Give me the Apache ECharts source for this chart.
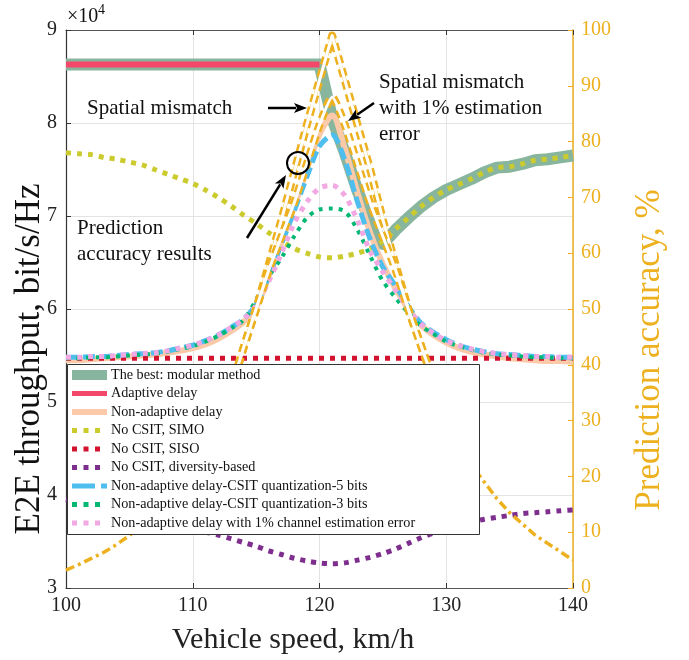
<!DOCTYPE html>
<html><head><meta charset="utf-8">
<script src="https://cdn.jsdelivr.net/npm/echarts@6/dist/echarts.min.js"></script>
<style>html,body{margin:0;padding:0;background:#fff}#c{width:689px;height:660px}</style>
</head><body><div id="c"></div>
<script>
const speeds = [100,101,102,103,104,105,106,107,108,109,110,111,112,113,114,115,116,117,118,119,120,121,122,123,124,125,126,127,128,129,130,131,132,133,134,135,136,137,138,139,140];

const modular = [8.63,8.63,8.63,8.63,8.63,8.63,8.63,8.63,8.63,8.63,8.63,8.63,8.63,8.63,8.63,8.63,8.63,8.63,8.63,8.63,8.63,8.05,7.68,7.27,6.95,6.70,6.85,6.98,7.10,7.20,7.28,7.34,7.40,7.47,7.52,7.53,7.56,7.60,7.61,7.63,7.65];
const adaptive = [8.63,8.63,8.63,8.63,8.63,8.63,8.63,8.63,8.63,8.63,8.63,8.63,8.63,8.63,8.63,8.63,8.63,8.63,8.63,8.63,8.63,null,null,null,null,null,null,null,null,null,null,null,null,null,null,null,null,null,null,null,null];
const nonAdaptive = [5.45,5.45,5.46,5.47,5.48,5.49,5.50,5.51,5.53,5.55,5.58,5.62,5.68,5.76,5.86,6.02,6.35,6.72,7.10,7.50,7.88,8.08,7.72,7.25,6.82,6.48,6.22,6.00,5.83,5.72,5.64,5.58,5.54,5.51,5.49,5.47,5.46,5.45,5.44,5.44,5.43];
const simo = [7.68,7.67,7.66,7.63,7.61,7.58,7.55,7.50,7.45,7.40,7.35,7.28,7.20,7.11,7.01,6.92,6.82,6.73,6.65,6.60,6.56,6.55,6.57,6.60,6.65,6.73,6.86,6.98,7.10,7.20,7.28,7.34,7.40,7.47,7.52,7.53,7.56,7.60,7.61,7.63,7.65];
const siso = [5.47,5.47,5.47,5.47,5.47,5.47,5.47,5.47,5.47,5.47,5.47,5.47,5.47,5.47,5.47,5.47,5.47,5.47,5.47,5.47,5.47,5.47,5.47,5.47,5.47,5.47,5.47,5.47,5.47,5.47,5.47,5.47,5.47,5.47,5.47,5.47,5.47,5.47,5.47,5.47,5.47];
const diversity = [3.95,3.92,3.89,3.86,3.82,3.78,3.75,3.72,3.69,3.66,3.63,3.60,3.57,3.53,3.49,3.45,3.40,3.36,3.32,3.29,3.27,3.26,3.27,3.30,3.33,3.37,3.42,3.48,3.54,3.59,3.63,3.67,3.71,3.74,3.76,3.78,3.80,3.81,3.82,3.83,3.84];
const quant5 = [5.48,5.48,5.49,5.49,5.50,5.51,5.52,5.53,5.55,5.58,5.61,5.66,5.72,5.80,5.89,6.05,6.35,6.70,7.05,7.42,7.75,7.87,7.60,7.15,6.75,6.45,6.25,6.03,5.85,5.75,5.67,5.61,5.57,5.54,5.52,5.51,5.50,5.49,5.49,5.48,5.48];
const quant3 = [5.47,5.47,5.48,5.48,5.49,5.50,5.51,5.52,5.54,5.57,5.60,5.65,5.71,5.79,5.88,6.10,6.35,6.55,6.78,6.98,7.07,7.08,7.05,6.85,6.57,6.30,6.12,5.96,5.82,5.73,5.65,5.60,5.56,5.53,5.51,5.50,5.49,5.48,5.48,5.47,5.47];
const estErr = [5.48,5.48,5.49,5.49,5.50,5.51,5.52,5.53,5.55,5.58,5.61,5.66,5.72,5.80,5.89,6.04,6.30,6.60,6.92,7.15,7.30,7.33,7.22,6.95,6.62,6.40,6.20,6.00,5.84,5.74,5.66,5.61,5.57,5.54,5.52,5.51,5.50,5.49,5.49,5.48,5.48];

// prediction accuracy (%) on right axis
const accuracy = [3.2,4.2,5.3,6.4,7.8,9.4,11.2,13.2,15.8,18.8,22,25.5,30,35.5,43,50,58,66,74.5,83,91,99,91,83,75,66,58,50,43.5,37,31,26,22,19,16,13.5,11.5,9.5,8,6.5,5];
const spatialMismatch = [null,null,null,null,null,null,null,null,null,null,null,null,null,35.5,43,50,58,66,74.5,83,91,99,91,83,75,66,58,50,43.5,37,null,null,null,null,null,null,null,null,null,null,null];
const spatialMismatchErr = [null,null,null,null,null,null,null,null,null,null,null,null,null,35.5,43,50,57,63,69,76,83,88,83,76,69,63,57,50,43.5,37,null,null,null,null,null,null,null,null,null,null,null];

const names = ['The best: modular method','Adaptive delay','Non-adaptive delay','No CSIT, SIMO','No CSIT, SISO','No CSIT, diversity-based','Non-adaptive delay-CSIT quantization-5 bits','Non-adaptive delay-CSIT quantization-3 bits','Non-adaptive delay with 1% channel estimation error'];

const FONT = 'Liberation Serif';
const ORANGE = '#EDB120';
function pairs(arr){ return speeds.map((x,i)=>[x,arr[i]]).filter(p=>p[1]!==null); }
function pairsGap(arr){ return speeds.map((x,i)=>[x,arr[i]]); }

// style per legend entry: [data, color, width, dash, legendWidth, smooth, legendDash, legendEnd]
const DOT = [5,6.5];
const styles = [
  [pairs(modular), '#88B59D', 12, null, 10, false, null, 107],
  [pairsGap(adaptive), '#F4486B', 6, null, 5, false, null, 107],
  [pairs(nonAdaptive), '#FCCAA9', 6, null, 6, 0.3, null, 107],
  [pairs(simo), '#CBCB2E', 5, [5,6], 5, 0.3, DOT, 100],
  [pairs(siso), '#D2122E', 5, [5,6], 5, false, DOT, 100],
  [pairs(diversity), '#7E2F8E', 5, [5,6], 5, 0.3, DOT, 100],
  [pairs(quant5), '#4DBEEE', 5, [12,5], 5, 0.3, [23,6], 107],
  [pairs(quant3), '#00B874', 4, [4,6], 5, 0.3, DOT, 100],
  [pairs(estErr), '#F2A8E2', 5, [5,6], 5, 0.3, DOT, 100]
];

function ln(name, data, color, width, dash, extra){
  return Object.assign({
    name, type:'line', data, symbol:'none', showSymbol:false, yAxisIndex:0,
    lineStyle:{color, width, type: dash || 'solid', cap:'butt', join:'round'},
    itemStyle:{color}, emphasis:{disabled:true}, animation:false, silent:true
  }, extra||{});
}

const series = styles.map((s,i)=>ln(names[i], s[0], s[1], s[2], s[3], {z:2+i, smooth:s[5]}));
series.push(
  ln('acc', pairs(accuracy), ORANGE, 3.5, [9,4,3,4], {yAxisIndex:1, z:20}),
  ln('sm', pairs(spatialMismatch), ORANGE, 8, [8,5], {yAxisIndex:1, z:21}),
  ln('smCore', pairs(spatialMismatch), '#ffffff', 3, 'solid', {yAxisIndex:1, z:22}),
  ln('sme', pairs(spatialMismatchErr), ORANGE, 8, [8,5], {yAxisIndex:1, z:23, smooth:0.2}),
  ln('smeCore', pairs(spatialMismatchErr), '#ffffff', 3, 'solid', {yAxisIndex:1, z:24, smooth:0.2})
);

function arrow(x1,y1,x2,y2){
  const dx=x2-x1, dy=y2-y1, L=Math.hypot(dx,dy), ux=dx/L, uy=dy/L, hl=13, hw=5;
  const bx=x2-ux*hl, by=y2-uy*hl;
  return [
    {type:'line', z:100, shape:{x1,y1,x2:bx+ux*2,y2:by+uy*2}, style:{stroke:'#000', lineWidth:2.5}},
    {type:'polygon', z:100, shape:{points:[[x2,y2],[bx-uy*hw,by+ux*hw],[bx+ux*3,by+uy*3],[bx+uy*hw,by-ux*hw]]}, style:{fill:'#000'}}
  ];
}
function txt(x,y,s,size,extra){
  return Object.assign({type:'text', z:100, x, y, style:{text:s, font:`${size}px "${FONT}"`, fill:'#111', textVerticalAlign:'middle'}}, extra||{});
}

// custom legend box
const LX=67, LY=364, LW=412, LH=170, ROW0=375, PITCH=18.5;
const legendEls = [{type:'rect', z:110, shape:{x:LX+0.5,y:LY+0.5,width:LW,height:LH}, style:{fill:'#fff', stroke:'#333', lineWidth:1}}];
styles.forEach((s,i)=>{
  const y = ROW0 + i*PITCH;
  legendEls.push({type:'line', z:111, shape:{x1:72,y1:y,x2:s[7],y2:y}, style:{stroke:s[1], lineWidth:s[4], lineDash:s[6]||null, lineCap:'butt'}});
  legendEls.push({type:'text', z:111, x:111, y:y, style:{text:names[i], font:`14.2px "${FONT}"`, fill:'#111', textVerticalAlign:'middle'}});
});

const graphics = [
  txt(67,17,'\u00d710',20),
  txt(98,10,'4',14),
  txt(87,108,'Spatial mismatch',21),
  txt(379,82,'Spatial mismatch',21),
  txt(379,108,'with 1% estimation',21),
  txt(379,134,'error',21),
  txt(77,228,'Prediction',21),
  txt(77,254,'accuracy results',21),
  {type:'circle', z:100, shape:{cx:298, cy:163, r:11}, style:{stroke:'#000', lineWidth:2, fill:null}},
  ...arrow(268,108,307,108),
  ...arrow(374,103,348,121),
  ...arrow(247,238,286,175),
  {type:'text', z:100, x:30, y:359, rotation:Math.PI/2, style:{text:'E2E throughput, bit/s/Hz', font:`35px "${FONT}"`, fill:'#111', textAlign:'center', textVerticalAlign:'middle'}},
  {type:'text', z:100, x:650, y:350, rotation:Math.PI/2, style:{text:'Prediction accuracy, %', font:`35px "${FONT}"`, fill:ORANGE, textAlign:'center', textVerticalAlign:'middle'}},
  {type:'text', z:100, x:293, y:640, style:{text:'Vehicle speed, km/h', font:`30px "${FONT}"`, fill:'#222', textAlign:'center', textVerticalAlign:'middle'}},
  ...legendEls
];

const chart = echarts.init(document.getElementById('c'), null, {renderer:'canvas'});
chart.setOption({
  animation:false,
  backgroundColor:'#fff',
  grid:{left:66, right:116, top:30, bottom:72, containLabel:false},
  legend:{show:false, data:names},
  xAxis:[
    {type:'value', min:100, max:140, interval:10, position:'bottom',
     axisLine:{lineStyle:{color:'#555', width:1.2}},
     axisTick:{inside:true, length:5, lineStyle:{color:'#333'}},
     axisLabel:{fontFamily:FONT, fontSize:20, color:'#222', margin:8},
     splitLine:{show:true, lineStyle:{color:'#e3e3e3', width:1}}},
    {type:'value', min:100, max:140, interval:10, position:'top',
     axisLine:{show:true, lineStyle:{color:'#555', width:1.2}},
     axisTick:{inside:true, length:5, lineStyle:{color:'#333'}},
     axisLabel:{show:false}, splitLine:{show:false}}
  ],
  yAxis:[
    {type:'value', min:3, max:9, interval:1, position:'left',
     axisLine:{show:true, lineStyle:{color:'#333', width:1.2}},
     axisTick:{show:true, inside:true, length:5, lineStyle:{color:'#333'}},
     axisLabel:{fontFamily:FONT, fontSize:20, color:'#222', margin:9},
     splitLine:{show:true, lineStyle:{color:'#e3e3e3', width:1}}},
    {type:'value', min:0, max:100, interval:10, position:'right',
     axisLine:{show:true, lineStyle:{color:ORANGE, width:1.5}},
     axisTick:{show:true, inside:true, length:5, lineStyle:{color:ORANGE}},
     axisLabel:{fontFamily:FONT, fontSize:20, color:ORANGE, margin:8},
     splitLine:{show:false}}
  ],
  series,
  graphic:graphics
});
</script></body></html>
